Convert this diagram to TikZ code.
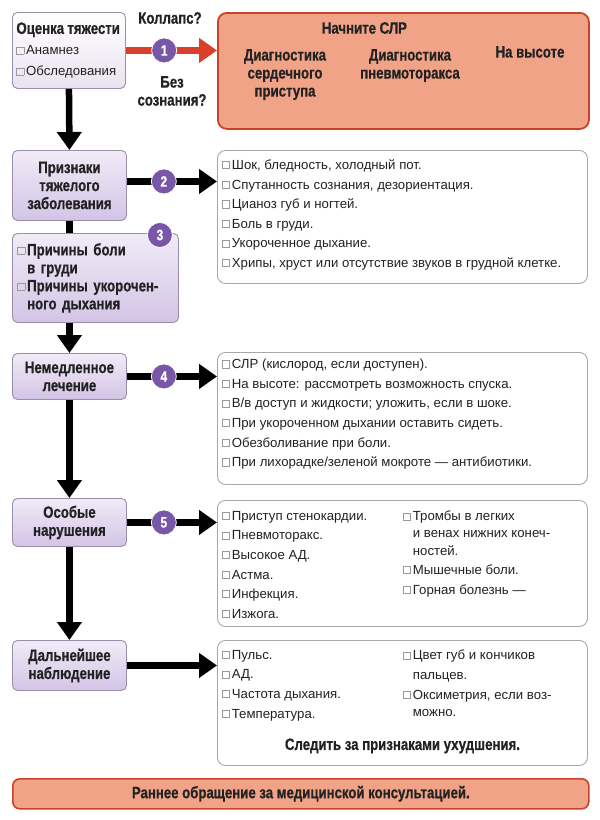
\documentclass[tikz,border=0pt]{standalone}
\usepackage{fontspec}
\setmainfont[BoldFeatures={FakeStretch=0.8,FakeBold=0.6}]{Liberation Sans}
\usepackage{xcolor}
\usetikzlibrary{positioning,arrows.meta,calc}
\definecolor{lavtop}{HTML}{F1EBF7}
\definecolor{lavbot}{HTML}{D3C4E6}
\definecolor{palebot}{HTML}{E9E2F1}
\definecolor{lavedge}{HTML}{9A8FAA}
\definecolor{salmon}{HTML}{F0A386}
\definecolor{salmonedge}{HTML}{C8432A}
\definecolor{arrowred}{HTML}{D8402B}
\definecolor{numpurple}{HTML}{7957A8}
\definecolor{listedge}{HTML}{A8A8A8}
\definecolor{ink}{HTML}{222222}
\definecolor{sqgray}{HTML}{9A9A9A}
\newcommand{\chkbox}{{\color{sqgray}\fboxsep=0pt\fboxrule=0.6pt\raisebox{1.2pt}{\fbox{\rule{0pt}{6.5pt}\rule{6.5pt}{0pt}}}}\hspace{2pt}}
\newcommand{\chkind}{\phantom{\chkbox}}

\begin{document}
\begin{tikzpicture}[x=1pt, y=-1pt,
  lavbox/.style={draw=lavedge, line width=0.9pt, rounded corners=5pt,
    top color=lavtop, bottom color=lavbot, inner sep=0pt, text=ink},
  palebox/.style={lavbox, top color=white, bottom color=palebot},
  listbox/.style={draw=listedge, line width=0.9pt, rounded corners=8pt, fill=white},
  cprbox/.style={draw=salmonedge, line width=1.8pt, rounded corners=9pt, fill=salmon},
  headfont/.style={font=\bfseries\fontsize{16.5}{18}\selectfont, text=ink},
  listfont/.style={font=\fontsize{13.2}{19.6}\selectfont, text=ink, inner sep=0pt, align=left},
  numdot/.style={circle, fill=numpurple, draw=white, line width=0.8pt, minimum size=25pt,
    inner sep=0pt, text=white, font=\bfseries\fontsize{15}{15}\selectfont},
  flow/.style={line width=6.5pt, -{Triangle[length=18pt,width=24pt]}},
  redflow/.style={flow, draw=arrowred, -{Triangle[length=18pt,width=24pt,fill=arrowred]}},
  link/.style={line width=6.5pt}]
  \fill[white] (0,0) rectangle (600,820);
  \useasboundingbox (0,0) rectangle (600,820);

  % left column
  \node[palebox, anchor=north west, text width=105, inner xsep=4pt, minimum height=76] (assess) at (12,12)
    {{\bfseries\fontsize{16.5}{18}\selectfont Оценка тяжести}\par
     {\fontsize{13.2}{21}\selectfont \chkbox Анамнез\\ \chkbox Обследования\par}};
  \node[lavbox, headfont, anchor=north west, text width=114, minimum height=70, align=center] (sev) at (12,150)
    {Признаки\\тяжелого\\заболевания};
  \node[lavbox, headfont, anchor=north west, text width=156, inner xsep=5pt, minimum height=89, align=left] (causes) at (12,233)
    {\chkbox Причины боли\\ \chkind в груди\\ \chkbox Причины укорочен-\\ \chkind ного дыхания};
  \node[lavbox, headfont, anchor=north west, text width=114, minimum height=46, align=center] (treat) at (12,353)
    {Немедленное\\лечение};
  \node[lavbox, headfont, anchor=north west, text width=114, minimum height=48, align=center] (special) at (12,498)
    {Особые\\нарушения};
  \node[lavbox, headfont, anchor=north west, text width=114, minimum height=50, align=center] (follow) at (12,640)
    {Дальнейшее\\наблюдение};

  % right column
  \node[cprbox, anchor=north west, minimum width=371, minimum height=116] (cpr) at (217,12) {};
  \node[headfont, inner sep=0pt] (cprhead) at ([xshift=-39pt,yshift=-16pt]cpr.north) {Начните СЛР};
  \node[headfont, inner sep=0pt, anchor=north, align=center] (heart) at (285,49)
    {Диагностика\\сердечного\\приступа};
  \node[headfont, inner sep=0pt, anchor=north, align=center] (pneumo) at (410,49)
    {Диагностика\\пневмоторакса};
  \node[headfont, inner sep=0pt, anchor=north] (altitude) at (530,46) {На высоте};

  \node[listbox, anchor=north west, minimum width=370, minimum height=133] (signs) at (217,150) {};
  \node[listfont, anchor=north west] (signslist) at ([xshift=5pt,yshift=-9.5pt]signs.north west)
    {\chkbox Шок, бледность, холодный пот.\\
     \chkbox Спутанность сознания, дезориентация.\\
     \chkbox Цианоз губ и ногтей.\\
     \chkbox Боль в груди.\\
     \chkbox Укороченное дыхание.\\
     \chkbox Хрипы, хруст или отсутствие звуков в грудной клетке.};

  \node[listbox, anchor=north west, minimum width=370, minimum height=132] (care) at (217,352) {};
  \node[listfont, anchor=north west] (carelist) at ([xshift=5pt,yshift=-7pt]care.north west)
    {\chkbox СЛР (кислород, если доступен).\\
     \chkbox На высоте: рассмотреть возможность спуска.\\
     \chkbox В/в доступ и жидкости; уложить, если в шоке.\\
     \chkbox При укороченном дыхании оставить сидеть.\\
     \chkbox Обезболивание при боли.\\
     \chkbox При лихорадке/зеленой мокроте — антибиотики.};

  \node[listbox, anchor=north west, minimum width=370, minimum height=126] (disorders) at (217,500) {};
  \node[listfont, anchor=north west] (disleft) at ([xshift=5pt,yshift=-11pt]disorders.north west)
    {\chkbox Приступ стенокардии.\\
     \chkbox Пневмоторакс.\\
     \chkbox Высокое АД.\\
     \chkbox Астма.\\
     \chkbox Инфекция.\\
     \chkbox Изжога.};
  \node[listfont, anchor=north west] (disright) at ([xshift=186pt,yshift=-11pt]disorders.north west)
    {\chkbox Тромбы в легких\\[-2.5pt]
     \chkind и венах нижних конеч-\\[-2.5pt]
     \chkind ностей.\\
     \chkbox Мышечные боли.\\
     \chkbox Горная болезнь —};

  \node[listbox, anchor=north west, minimum width=370, minimum height=125] (watch) at (217,640) {};
  \node[listfont, anchor=north west] (watchleft) at ([xshift=5pt,yshift=-10pt]watch.north west)
    {\chkbox Пульс.\\
     \chkbox АД.\\
     \chkbox Частота дыхания.\\
     \chkbox Температура.};
  \node[listfont, anchor=north west] (watchright) at ([xshift=186pt,yshift=-10pt]watch.north west)
    {\chkbox Цвет губ и кончиков\\
     \chkind пальцев.\\
     \chkbox Оксиметрия, если воз-\\[-2.5pt]
     \chkind можно.};
  \node[headfont, inner sep=0pt] (worse) at ([yshift=20pt]watch.south) {Следить за признаками ухудшения.};

  \node[cprbox, headfont, anchor=north west, minimum width=576, minimum height=30, line width=1.6pt, rounded corners=7pt] (consult) at (12,778)
    {Раннее обращение за медицинской консультацией.};

  % questions
  \node[headfont, inner sep=0pt] (collapse) at (170,18) {Коллапс?};
  \node[headfont, inner sep=0pt, align=center] (unconscious) at (172,91) {Без\\сознания?};

  % connectors
  \draw[redflow] (assess.east) -- node[numdot, pos=.42] {1} (assess.east -| cpr.west);
  \draw[flow] (assess.south) -- (sev.north);
  \draw[flow] ([yshift=4pt]sev.east) -- node[numdot, pos=.41] {2} ([yshift=4pt]sev.east -| signs.west);
  \draw[link] (sev.south) -- (sev.south |- causes.north);
  \node[numdot] (dot3) at ([xshift=-19pt,yshift=-2pt]causes.north east) {3};
  \draw[flow] (causes.south -| treat.north) -- (treat.north);
  \draw[flow] (treat.east) -- node[numdot, pos=.41] {4} (treat.east -| care.west);
  \draw[flow] (treat.south) -- (special.north);
  \draw[flow] (special.east) -- node[numdot, pos=.41] {5} (special.east -| disorders.west);
  \draw[flow] (special.south) -- (follow.north);
  \draw[flow] (follow.east) -- (follow.east -| watch.west);
\end{tikzpicture}
\end{document}
